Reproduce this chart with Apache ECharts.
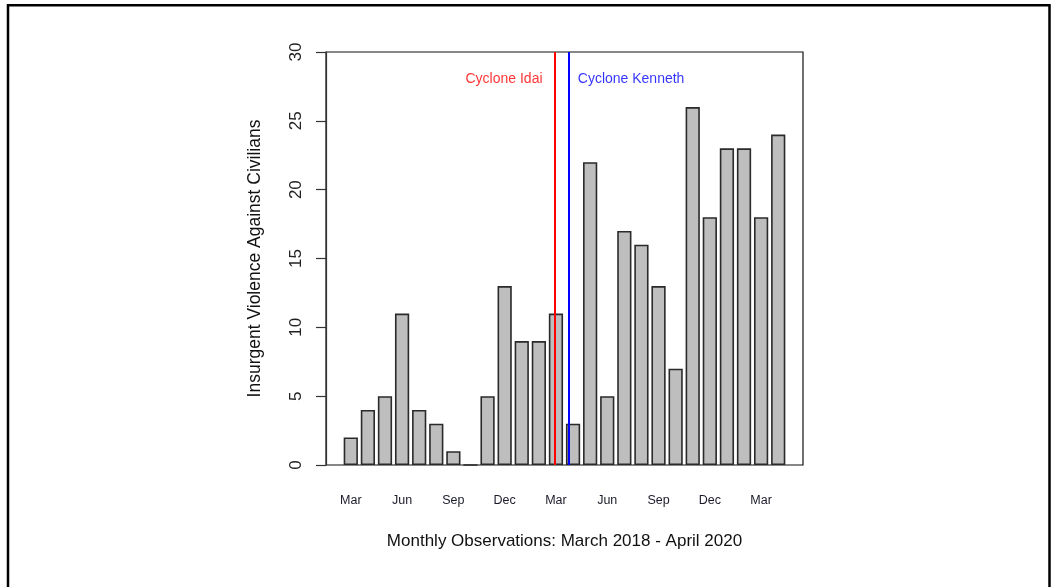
<!DOCTYPE html>
<html><head><meta charset="utf-8">
<script src="https://cdn.jsdelivr.net/npm/echarts@6/dist/echarts.min.js"></script>
<style>html,body{margin:0;padding:0;background:#fff}#c{width:1051px;height:587px}</style>
</head><body><div id="c"></div>
<script>
const months = ['Mar','Apr','May','Jun','Jul','Aug','Sep','Oct','Nov','Dec','Jan','Feb',
                'Mar','Apr','May','Jun','Jul','Aug','Sep','Oct','Nov','Dec','Jan','Feb','Mar','Apr'];
const values = [2,4,5,11,4,3,1,0,5,13,9,9,11,3,22,5,17,16,13,7,26,18,23,23,18,24];
const yTicks = [0,5,10,15,20,25,30];
const cycloneNames = ['Cyclone Idai','Cyclone Kenneth'];
const cyclonePos = [15,16];   // position in barplot units (R barplot coordinates)
const cycloneColors = ['#ff0000','#0000ff'];

// R barplot layout: width 1, space 0.2, xlim extended 4%
const n = values.length;
const wl = 0.2, wr = 0.2 + (n-1)*1.2 + 1;
const ext = (wr - wl) * 0.04;
const xmin = wl - ext, xmax = wr + ext;
const G = {left:326, top:52, width:477, height:413};
const upx = G.width / (xmax - xmin);
const bandL = G.left + (0.1 - xmin) * upx;
const bandR = G.left + (wr + 0.1 - xmin) * upx;

const chart = echarts.init(document.getElementById('c'), null, {renderer:'canvas'});
const font = 'Liberation Sans, Arial, sans-serif';
chart.setOption({
  animation:false,
  graphic:[{type:'rect', shape:{x:8, y:5.2, width:1041.5, height:640}, style:{fill:'none', stroke:'#000', lineWidth:2.5}}],
  grid:[
    {left:G.left, top:G.top, width:G.width, height:G.height, show:true, borderColor:'#111', borderWidth:1.2, backgroundColor:'transparent'},
    {left:bandL, top:G.top, width:bandR-bandL, height:G.height}
  ],
  xAxis:[
    {type:'value', gridIndex:0, min:xmin, max:xmax, show:false},
    {type:'category', gridIndex:1, data:months,
     axisLine:{show:false}, axisTick:{show:false},
     axisLabel:{interval:2, margin:29, fontSize:12.5, color:'#1a1a2a', fontFamily:font},
     name:'Monthly Observations: March 2018 - April 2020', nameLocation:'middle', nameGap:67.5,
     nameTextStyle:{fontSize:17, color:'#111', fontFamily:font}}
  ],
  yAxis:[
    {type:'value', gridIndex:0, min:0, max:30, interval:5,
     axisLine:{show:true, onZero:false, lineStyle:{color:'#333', width:1.2}},
     axisTick:{show:true, length:10, lineStyle:{color:'#333', width:1.2}},
     splitLine:{show:false},
     axisLabel:{rotate:90, margin:21, fontSize:17, color:'#222', fontFamily:font,
                formatter:(v)=> yTicks.includes(v) ? String(v) : ''},
     name:'Insurgent Violence Against Civilians', nameLocation:'middle', nameGap:62, nameRotate:90,
     nameTextStyle:{fontSize:17.5, color:'#111', fontFamily:font}},
    {type:'value', gridIndex:1, min:0, max:30, show:false}
  ],
  series:[
    {type:'bar', xAxisIndex:1, yAxisIndex:1, data:values, barCategoryGap:'16.667%',
     itemStyle:{color:'#bebebe', borderColor:'#2a2a2a', borderWidth:1.6}},
    {type:'scatter', xAxisIndex:0, yAxisIndex:0, symbolSize:0,
     data:cyclonePos.map((p,i)=>({value:[p,28],
        label:{show:true, formatter:cycloneNames[i], position:i===0?'left':'right', distance:i===0?12:9,
               color:cycloneColors[i], fontSize:14, fontFamily:font}})),
     markLine:{silent:true, symbol:'none', label:{show:false},
       data:cyclonePos.map((p,i)=>({xAxis:p, lineStyle:{color:cycloneColors[i], width:2, type:'solid'}}))}
    }
  ]
});
</script></body></html>
